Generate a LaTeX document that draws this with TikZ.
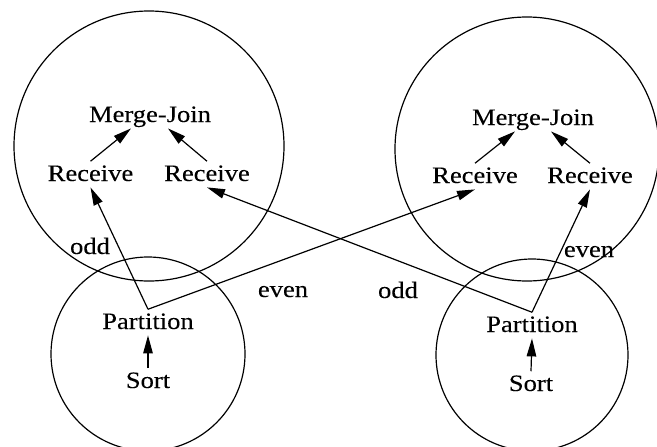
\documentclass[tikz,border=0pt]{standalone}
\usepackage{fontspec}
\setmainfont{Liberation Serif}[FakeStretch=1.13, FakeBold=0.12]
\usetikzlibrary{arrows.meta}

\begin{document}
\begin{tikzpicture}[x=1pt, y=-1pt,
  every node/.style={font=\fontsize{23.5}{28}\selectfont},
  op/.style={anchor=base, inner sep=4pt, text depth=0.22em},
  lbl/.style={anchor=base, inner sep=0pt},
  site/.style={draw, circle, line width=1.2pt, inner sep=0pt},
  flow/.style={line width=1.2pt, -{Triangle[length=18pt,width=9.5pt]}}]

\useasboundingbox (0,0) rectangle (657,447);
\clip (0,0) rectangle (657,447);

% processor sites
\node[site, minimum size=270pt] (siteA) at (149,146) {};
\node[site, minimum size=264pt] (siteB) at (527,149) {};
\node[site, minimum size=194pt] (siteC) at (148,354) {};
\node[site, minimum size=192pt] (siteD) at (532,355) {};

% join sites
\node[op] (mjL) at (150,122) {Merge-Join};
\node[op] (rL1) at (90.5,181) {Receive};
\node[op] (rL2) at (207,181) {Receive};

\node[op] (mjR) at (533,125) {Merge-Join};
\node[op] (rR1) at (475,183) {Receive};
\node[op] (rR2) at (590,183) {Receive};

% sorting sites
\node[op] (pL) at (148,329) {Partition};
\node[op] (sL) at (148,388) {Sort};
\node[op] (pR) at (532,332) {Partition};
\node[op] (sR) at (531,391) {Sort};

% stream labels
\node[lbl] (oddL)  at (90,254)  {odd};
\node[lbl] (evenL) at (283,297) {even};
\node[lbl] (oddR)  at (398,298) {odd};
\node[lbl] (evenR) at (589,257) {even};

% local data flow
\draw[flow] (rL1.north) -- ([xshift=-19pt]mjL.south);
\draw[flow] (rL2.north) -- ([xshift=18pt]mjL.south);
\draw[flow] (rR1.north) -- ([xshift=-18pt]mjR.south);
\draw[flow] (rR2.north) -- ([xshift=18pt]mjR.south);
\draw[flow] (sL.north) -- (pL.south);
\draw[flow] (sR.north) -- (pR.south);

% partitioned streams
\draw[flow] (pL.north) -- (rL1.south);
\draw[flow] (pL.north) -- (rR1.south);
\draw[flow] (pR.north) -- (rL2.south);
\draw[flow] (pR.north) -- (rR2.south);
\end{tikzpicture}
\end{document}
